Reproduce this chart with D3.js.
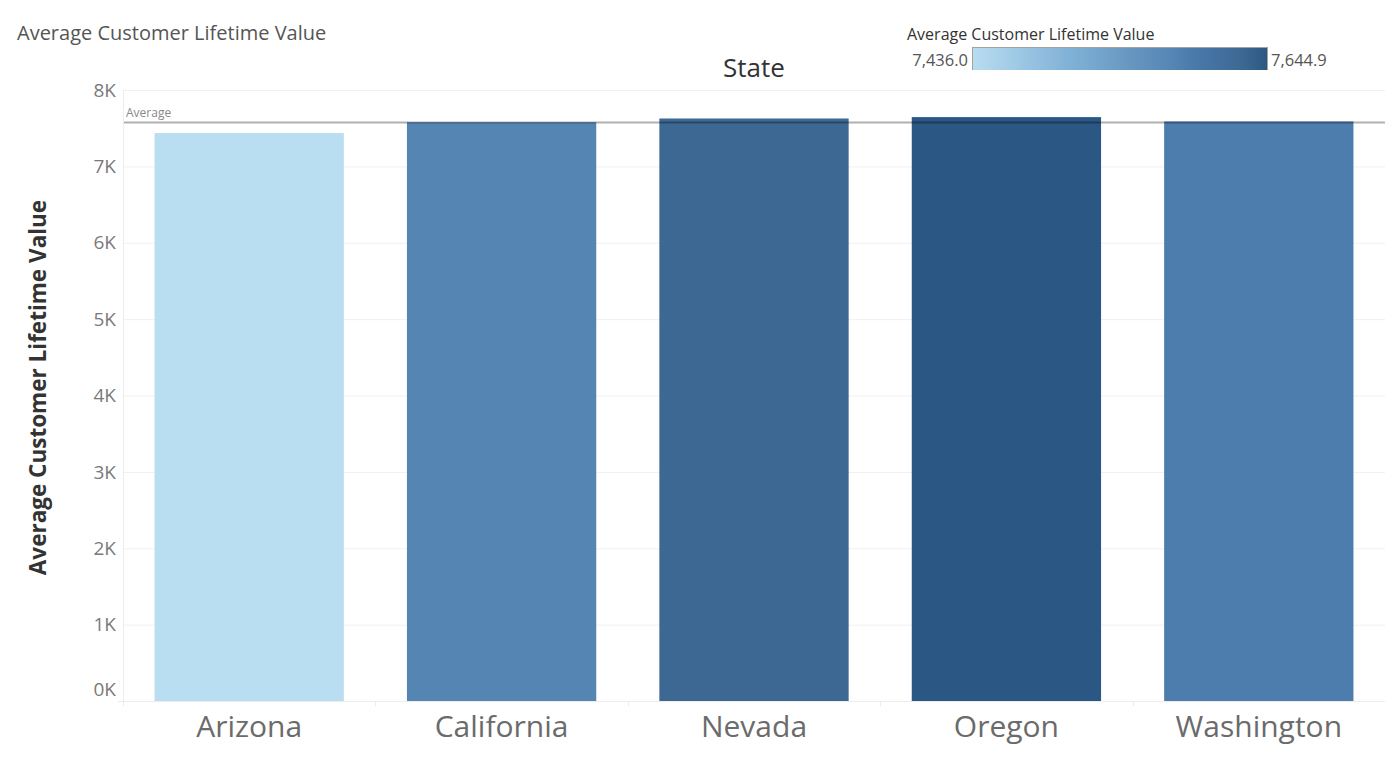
<!DOCTYPE html>
<html lang="en">
<head>
    <meta charset="UTF-8">
    <title>Average Customer Lifetime Value by State</title>
    <style>
        body { margin: 0; background: #fff; font-family: "Open Sans", "Noto Sans", sans-serif; }
        svg { display: block; }
    </style>
</head>
<body>
    <svg id="chart" width="1397" height="757"></svg>

    <script src="https://d3js.org/d3.v7.min.js"></script>
    <script>
        // --- Data ---
        const states = ["Arizona", "California", "Nevada", "Oregon", "Washington"];
        const clv = [7436.0, 7578, 7627, 7644.9, 7588];
        const yTicks = [0, 1000, 2000, 3000, 4000, 5000, 6000, 7000, 8000];

        // Tableau style blue ramp
        const rampColors = ["#b9ddf1", "#80b1d6", "#5686b3", "#4a7aaa", "#3c6792", "#2a5783"];
        const rampStops = [0, 0.33, 0.67, 0.75, 0.92, 1];

        const svg = d3.select("#chart");
        const margin = { top: 90, right: 12, bottom: 56, left: 123 };
        const W = 1397, H = 757;

        const x = d3.scaleBand().domain(states)
            .range([margin.left, W - margin.right])
            .paddingInner(0.25).paddingOuter(0.125);
        const y = d3.scaleLinear().domain([0, 8000]).range([H - margin.bottom, margin.top]);

        const lo = d3.min(clv), hi = d3.max(clv);
        const color = d3.scaleLinear()
            .domain(rampStops.map(t => lo + t * (hi - lo)))
            .range(rampColors)
            .interpolate(d3.interpolateRgb);

        // gridlines
        svg.append("g").selectAll("line").data(yTicks.filter(d => d > 0)).join("line")
            .attr("x1", margin.left).attr("x2", W - margin.right)
            .attr("y1", d => y(d) + 0.5).attr("y2", d => y(d) + 0.5)
            .attr("stroke", "#f0f0f0");

        // left axis line + bottom line
        svg.append("line").attr("x1", margin.left + 0.5).attr("x2", margin.left + 0.5)
            .attr("y1", margin.top).attr("y2", y(0) + 5).attr("stroke", "#ececec");
        svg.append("line").attr("x1", margin.left - 5).attr("x2", W - margin.right)
            .attr("y1", y(0) + 0.5).attr("y2", y(0) + 0.5).attr("stroke", "#ececec");

        // category separators
        svg.append("g").selectAll("line").data(states.slice(1)).join("line")
            .attr("x1", d => Math.round(x(d) - x.step() * 0.125) + 0.5)
            .attr("x2", d => Math.round(x(d) - x.step() * 0.125) + 0.5)
            .attr("y1", y(0)).attr("y2", y(0) + 5)
            .attr("stroke", "#ececec");

        // y tick labels
        svg.append("g").selectAll("text").data(yTicks).join("text")
            .attr("x", margin.left - 7)
            .attr("y", d => d === 0 ? y(d) - 12 : y(d))
            .attr("dy", "0.35em")
            .attr("text-anchor", "end")
            .attr("font-size", 19)
            .attr("fill", "#7a7a7a")
            .text(d => d3.format("d")(d / 1000) + "K");

        // bars
        svg.append("g").selectAll("rect").data(states).join("rect")
            .attr("x", d => x(d))
            .attr("width", x.bandwidth())
            .attr("y", (d, i) => y(clv[i]))
            .attr("height", (d, i) => y(0) - y(clv[i]))
            .attr("fill", (d, i) => color(clv[i]));

        // average reference line
        const avg = d3.mean(clv);
        svg.append("line")
            .attr("x1", margin.left + 1).attr("x2", W - margin.right)
            .attr("y1", y(avg)).attr("y2", y(avg))
            .attr("stroke", "rgba(0,0,0,0.31)").attr("stroke-width", 2);
        svg.append("text")
            .attr("x", margin.left + 3).attr("y", y(avg) - 5)
            .attr("font-size", 12).attr("fill", "#888")
            .text("Average");

        // category labels
        svg.append("g").selectAll("text").data(states).join("text")
            .attr("x", d => x(d) + x.bandwidth() / 2)
            .attr("y", 737)
            .attr("text-anchor", "middle")
            .attr("font-size", 30)
            .attr("fill", "#6b6b6b")
            .text(d => d);

        // y axis title
        svg.append("text")
            .attr("transform", `translate(46, ${(margin.top + y(0)) / 2 - 8}) rotate(-90)`)
            .attr("text-anchor", "middle")
            .attr("font-size", 22.5)
            .attr("font-weight", "bold")
            .attr("fill", "#333")
            .text("Average Customer Lifetime Value");

        // worksheet title
        svg.append("text")
            .attr("x", 17).attr("y", 40)
            .attr("font-size", 20)
            .attr("fill", "#555")
            .text("Average Customer Lifetime Value");

        // column header
        svg.append("text")
            .attr("x", 754).attr("y", 77)
            .attr("text-anchor", "middle")
            .attr("font-size", 26)
            .attr("fill", "#333")
            .text("State");

        // --- colour legend ---
        const lg = { x: 972, y: 47, w: 296, h: 23 };
        const defs = svg.append("defs");
        const grad = defs.append("linearGradient").attr("id", "legendGrad");
        grad.selectAll("stop").data(rampStops).join("stop")
            .attr("offset", d => d * 100 + "%")
            .attr("stop-color", (d, i) => rampColors[i]);

        svg.append("text")
            .attr("x", 907).attr("y", 40)
            .attr("font-size", 16).attr("font-weight", 500)
            .attr("fill", "#333")
            .text("Average Customer Lifetime Value");
        svg.append("rect")
            .attr("x", lg.x).attr("y", lg.y).attr("width", lg.w).attr("height", lg.h)
            .attr("fill", "url(#legendGrad)");
        svg.append("line")
            .attr("x1", lg.x).attr("x2", lg.x + lg.w).attr("y1", lg.y + 0.5).attr("y2", lg.y + 0.5)
            .attr("stroke", "#a8a39a");
        svg.append("line")
            .attr("x1", lg.x + 0.5).attr("x2", lg.x + 0.5).attr("y1", lg.y).attr("y2", lg.y + lg.h)
            .attr("stroke", "#a8a39a");
        svg.append("line")
            .attr("x1", lg.x + lg.w - 0.5).attr("x2", lg.x + lg.w - 0.5).attr("y1", lg.y).attr("y2", lg.y + lg.h)
            .attr("stroke", "#a8a39a");
        const fmt = d3.format(",.1f");
        svg.append("text")
            .attr("x", lg.x - 4).attr("y", 66)
            .attr("text-anchor", "end").attr("font-size", 16.5).attr("fill", "#555")
            .text(fmt(lo));
        svg.append("text")
            .attr("x", lg.x + lg.w + 3).attr("y", 66)
            .attr("font-size", 16.5).attr("fill", "#555")
            .text(fmt(hi));
    </script>
</body>
</html>
